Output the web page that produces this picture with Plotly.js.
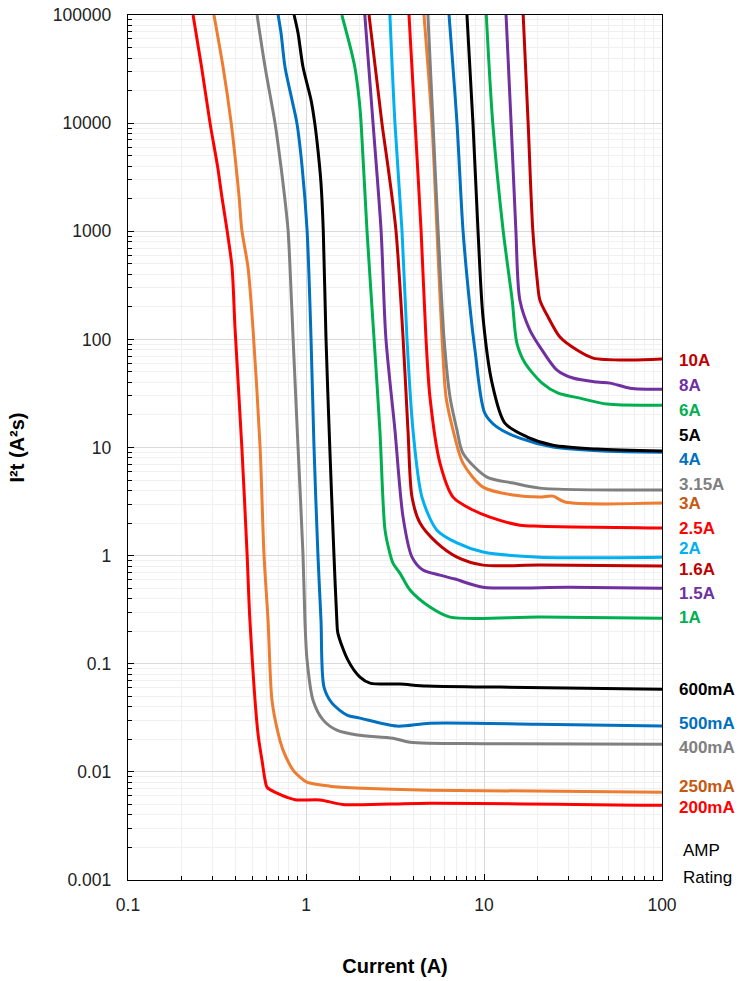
<!DOCTYPE html>
<html><head><meta charset="utf-8">
<script src="https://cdn.plot.ly/plotly-3.0.1.min.js"></script>
<style>html,body{margin:0;padding:0;background:#fff}#chart{width:738px;height:981px}</style>
</head><body><div id="chart"></div>
<script>
// ---- data (current in A, I2t in A^2 s) ----
const x200mA = [0.232, 0.259, 0.289, 0.319, 0.337, 0.360, 0.384, 0.399, 0.436, 0.467, 0.484, 0.537, 0.566, 0.589, 0.604, 0.687, 0.781, 0.889, 1.2, 1.61, 4.97, 100];
const y200mA = [100000, 33000, 10000, 3925, 2070, 1026, 467, 130, 10.1, 1.01, 0.253, 0.0228, 0.0128, 0.00838, 0.00721, 0.00635, 0.00583, 0.0055, 0.0055, 0.005, 0.00513, 0.0049];
const x250mA = [0.304, 0.342, 0.380, 0.405, 0.421, 0.436, 0.472, 0.503, 0.552, 0.581, 0.612, 0.644, 0.697, 0.743, 0.846, 0.925, 1.01, 1.36, 2.09, 4.97, 100];
const y250mA = [100000, 33000, 10000, 3925, 2070, 1026, 467, 130, 10.1, 1.01, 0.253, 0.046, 0.0228, 0.0159, 0.0104, 0.00893, 0.00803, 0.00738, 0.00706, 0.00677, 0.00649];
const x400mA = [0.531, 0.589, 0.670, 0.724, 0.762, 0.793, 0.813, 0.846, 0.902, 0.962, 0.986, 1.014, 1.095, 1.25, 1.49, 1.94, 3.08, 3.84, 10, 100];
const y400mA = [100000, 33000, 10000, 3925, 1944, 1026, 467, 103, 10.1, 1.01, 0.253, 0.108, 0.046, 0.0301, 0.0243, 0.0219, 0.0205, 0.0188, 0.0182, 0.018];
const x500mA = [0.697, 0.724, 0.762, 0.834, 0.889, 0.951, 1.014, 1.067, 1.109, 1.167, 1.214, 1.262, 1.40, 1.70, 2.01, 3.24, 4.97, 20, 100];
const y500mA = [100000, 68100, 33000, 16400, 10000, 3925, 1026, 103, 10.1, 1.01, 0.253, 0.0608, 0.0432, 0.0335, 0.0314, 0.0265, 0.0282, 0.0276, 0.0265];
const x600mA = [0.857, 0.902, 0.962, 1.067, 1.12, 1.167, 1.214, 1.25, 1.295, 1.36, 1.436, 1.49, 1.51, 1.72, 2.01, 2.29, 3.37, 4.78, 12.3, 100];
const y600mA = [100000, 68100, 33000, 16400, 10000, 5640, 2790, 1026, 103, 10.1, 1.01, 0.253, 0.192, 0.108, 0.0752, 0.0662, 0.0648, 0.0621, 0.0608, 0.0582];
const x1A = [1.59, 1.79, 1.88, 1.99, 2.04, 2.20, 2.41, 2.60, 2.78, 2.96, 3.08, 3.37, 3.84, 4.97, 6.44, 20.6, 100];
const y1A = [100000, 47500, 33000, 16400, 10000, 1026, 103, 14.5, 1.72, 1.05, 0.853, 0.689, 0.48, 0.334, 0.27, 0.27, 0.264];
const x1p5A = [2.14, 2.38, 2.64, 2.81, 3.16, 3.51, 3.94, 4.54, 5.66, 6.87, 9.87, 30, 100];
const y1p5A = [100000, 10000, 1026, 103, 14.5, 2.27, 0.968, 0.735, 0.66, 0.607, 0.511, 0.51, 0.5];
const x1p6A = [2.26, 2.67, 2.89, 3.20, 3.51, 3.74, 3.94, 4.37, 5.44, 7.05, 9.87, 20.6, 100];
const y1p6A = [100000, 10000, 3925, 1026, 103, 14.5, 3.48, 2.0, 1.31, 0.968, 0.817, 0.817, 0.80];
const x2A = [2.96, 3.16, 3.46, 3.69, 3.99, 4.48, 5.44, 7.05, 9.87, 20.6, 100];
const y2A = [100000, 10000, 1026, 103, 14.5, 3.48, 1.72, 1.31, 1.08, 0.968, 0.968];
const x2p5A = [3.79, 4.10, 4.43, 4.72, 4.97, 5.66, 6.70, 8.67, 10.8, 15.9, 20.6, 100];
const y2p5A = [100000, 10000, 1026, 103, 29.3, 7.17, 3.48, 2.64, 2.27, 1.91, 1.87, 1.8];
const x3A = [4.60, 5.10, 5.44, 5.81, 6.12, 6.70, 7.62, 9.87, 14.6, 20.6, 24.4, 28.5, 100];
const y3A = [100000, 10000, 1026, 103, 29.3, 14.5, 7.17, 4.30, 3.63, 3.48, 3.55, 3.13, 3.06];
const x3p15A = [4.84, 5.17, 5.52, 5.96, 6.44, 7.05, 7.62, 10.4, 14.6, 20.6, 100];
const y3p15A = [100000, 10000, 1026, 103, 29.3, 14.5, 8.87, 5.32, 4.69, 4.21, 4.04];
const x4A = [6.36, 7.05, 7.62, 8.34, 8.90, 10.1, 11.8, 15.9, 24.4, 46.6, 100];
const y4A = [100000, 10000, 1026, 199, 79.6, 20.8, 15.5, 12.2, 10.1, 9.27, 9.06];
const x5A = [8.02, 8.67, 9.25, 9.87, 11.1, 13.1, 17.5, 24.4, 43.1, 100];
const y5A = [100000, 10000, 1026, 161, 39.4, 16.8, 12.5, 10.5, 9.67, 9.27];
const x6A = [10.3, 11.2, 12.8, 14.4, 15.3, 17.0, 21.2, 26.1, 34.6, 49.1, 100];
const y6A = [100000, 10000, 1026, 231, 92.5, 60.4, 39.4, 31.8, 28.6, 25.2, 24.6];
const x8A = [13.3, 14.2, 15.1, 15.9, 18.1, 21.2, 25.7, 31.6, 43.1, 51.1, 66.1, 100];
const y8A = [100000, 10000, 1026, 231, 122, 79.6, 52.0, 43.9, 40.3, 39.4, 35.4, 34.6];
const x10A = [16.6, 17.7, 18.8, 19.9, 20.6, 22.9, 26.7, 33.3, 41.0, 66.1, 100];
const y10A = [100000, 10000, 1026, 354, 231, 161, 105, 79.6, 67.1, 64.4, 66];

const ratingNames = ["200mA","250mA","400mA","500mA","600mA","1A","1.5A","1.6A","2A","2.5A","3A","3.15A","4A","5A","6A","8A","10A"];
const xTickVals = [0.1, 1, 10, 100];
const xTickText = ["0.1", "1", "10", "100"];
const yTickVals = [0.001, 0.01, 0.1, 1, 10, 100, 1000, 10000, 100000];
const yTickText = ["0.001", "0.01", "0.1", "1", "10", "100", "1000", "10000", "100000"];

// ---- styling ----
const series = [
  {name:ratingNames[0], x:x200mA, y:y200mA, color:"#FF0000", lab:"#FF0000", ly:0.0047},
  {name:ratingNames[1], x:x250mA, y:y250mA, color:"#ED7D31", lab:"#C65911", ly:0.0074},
  {name:ratingNames[2], x:x400mA, y:y400mA, color:"#808080", lab:"#808080", ly:0.0169},
  {name:ratingNames[3], x:x500mA, y:y500mA, color:"#0070C0", lab:"#0070C0", ly:0.0282},
  {name:ratingNames[4], x:x600mA, y:y600mA, color:"#000000", lab:"#000000", ly:0.0582},
  {name:ratingNames[5], x:x1A, y:y1A, color:"#00B050", lab:"#00B050", ly:0.27},
  {name:ratingNames[6], x:x1p5A, y:y1p5A, color:"#7030A0", lab:"#7030A0", ly:0.45},
  {name:ratingNames[7], x:x1p6A, y:y1p6A, color:"#C00000", lab:"#C00000", ly:0.75},
  {name:ratingNames[8], x:x2A, y:y2A, color:"#00B0F0", lab:"#00B0F0", ly:1.16},
  {name:ratingNames[9], x:x2p5A, y:y2p5A, color:"#FF0000", lab:"#FF0000", ly:1.80},
  {name:ratingNames[10], x:x3A, y:y3A, color:"#ED7D31", lab:"#C65911", ly:3.06},
  {name:ratingNames[11], x:x3p15A, y:y3p15A, color:"#808080", lab:"#808080", ly:4.59},
  {name:ratingNames[12], x:x4A, y:y4A, color:"#0070C0", lab:"#0070C0", ly:7.81},
  {name:ratingNames[13], x:x5A, y:y5A, color:"#000000", lab:"#000000", ly:13.0},
  {name:ratingNames[14], x:x6A, y:y6A, color:"#00B050", lab:"#00B050", ly:22.2},
  {name:ratingNames[15], x:x8A, y:y8A, color:"#7030A0", lab:"#7030A0", ly:37.8},
  {name:ratingNames[16], x:x10A, y:y10A, color:"#C00000", lab:"#C00000", ly:64.4}
];

const FONT = "Liberation Sans, Arial, sans-serif";
const traces = series.map(s => ({
  type:"scatter", mode:"lines", name:s.name, x:s.x, y:s.y,
  line:{color:s.color, width:3, shape:"spline", smoothing:0.8},
  hoverinfo:"name+x+y", showlegend:false, cliponaxis:true
}));

const annotations = series.map(s => ({
  xref:"paper", yref:"y", x:1.028, y:Math.log10(s.ly), xanchor:"left", yanchor:"middle",
  text:"<b>"+s.name+"</b>", showarrow:false, font:{family:FONT, size:17, color:s.lab}
}));
annotations.push({xref:"paper", yref:"y", x:1.035, y:Math.log10(0.00189), xanchor:"left", yanchor:"middle",
  text:"AMP", showarrow:false, font:{family:FONT, size:17, color:"#000"}});
annotations.push({xref:"paper", yref:"y", x:1.035, y:Math.log10(0.00106), xanchor:"left", yanchor:"middle",
  text:"Rating", showarrow:false, font:{family:FONT, size:17, color:"#000"}});

const axisCommon = {
  type:"log", showline:true, linecolor:"#000", linewidth:1.3, mirror:true,
  ticks:"inside", ticklen:6, tickcolor:"#000", tickwidth:1,
  showgrid:true, gridcolor:"#d9d9d9", gridwidth:1, zeroline:false,
  tickfont:{family:FONT, size:17.5, color:"#222"},
  minor:{dtick:"D1", ticks:"inside", ticklen:4, tickcolor:"#000", showgrid:true, gridcolor:"#f0f0f0", gridwidth:1}
};

const layout = {
  width:738, height:981,
  margin:{l:128, r:76, t:15, b:101},
  paper_bgcolor:"#fff", plot_bgcolor:"#fff",
  showlegend:false,
  xaxis:Object.assign({}, axisCommon, {
    range:[-1, 2], tickmode:"array", tickvals:xTickVals, ticktext:xTickText,
    ticklabelstandoff:9,
    title:{text:"<b>Current (A)</b>", standoff:44, font:{family:FONT, size:20, color:"#000"}}
  }),
  yaxis:Object.assign({}, axisCommon, {
    range:[-3, 5], tickmode:"array", tickvals:yTickVals, ticktext:yTickText,
    ticklabelstandoff:12,
    title:{text:"<b>I²t (A²s)</b>", standoff:22, font:{family:FONT, size:20, color:"#000"}}
  }),
  annotations:annotations
};

Plotly.newPlot("chart", traces, layout, {staticPlot:true, displayModeBar:false});
</script>
</body></html>
